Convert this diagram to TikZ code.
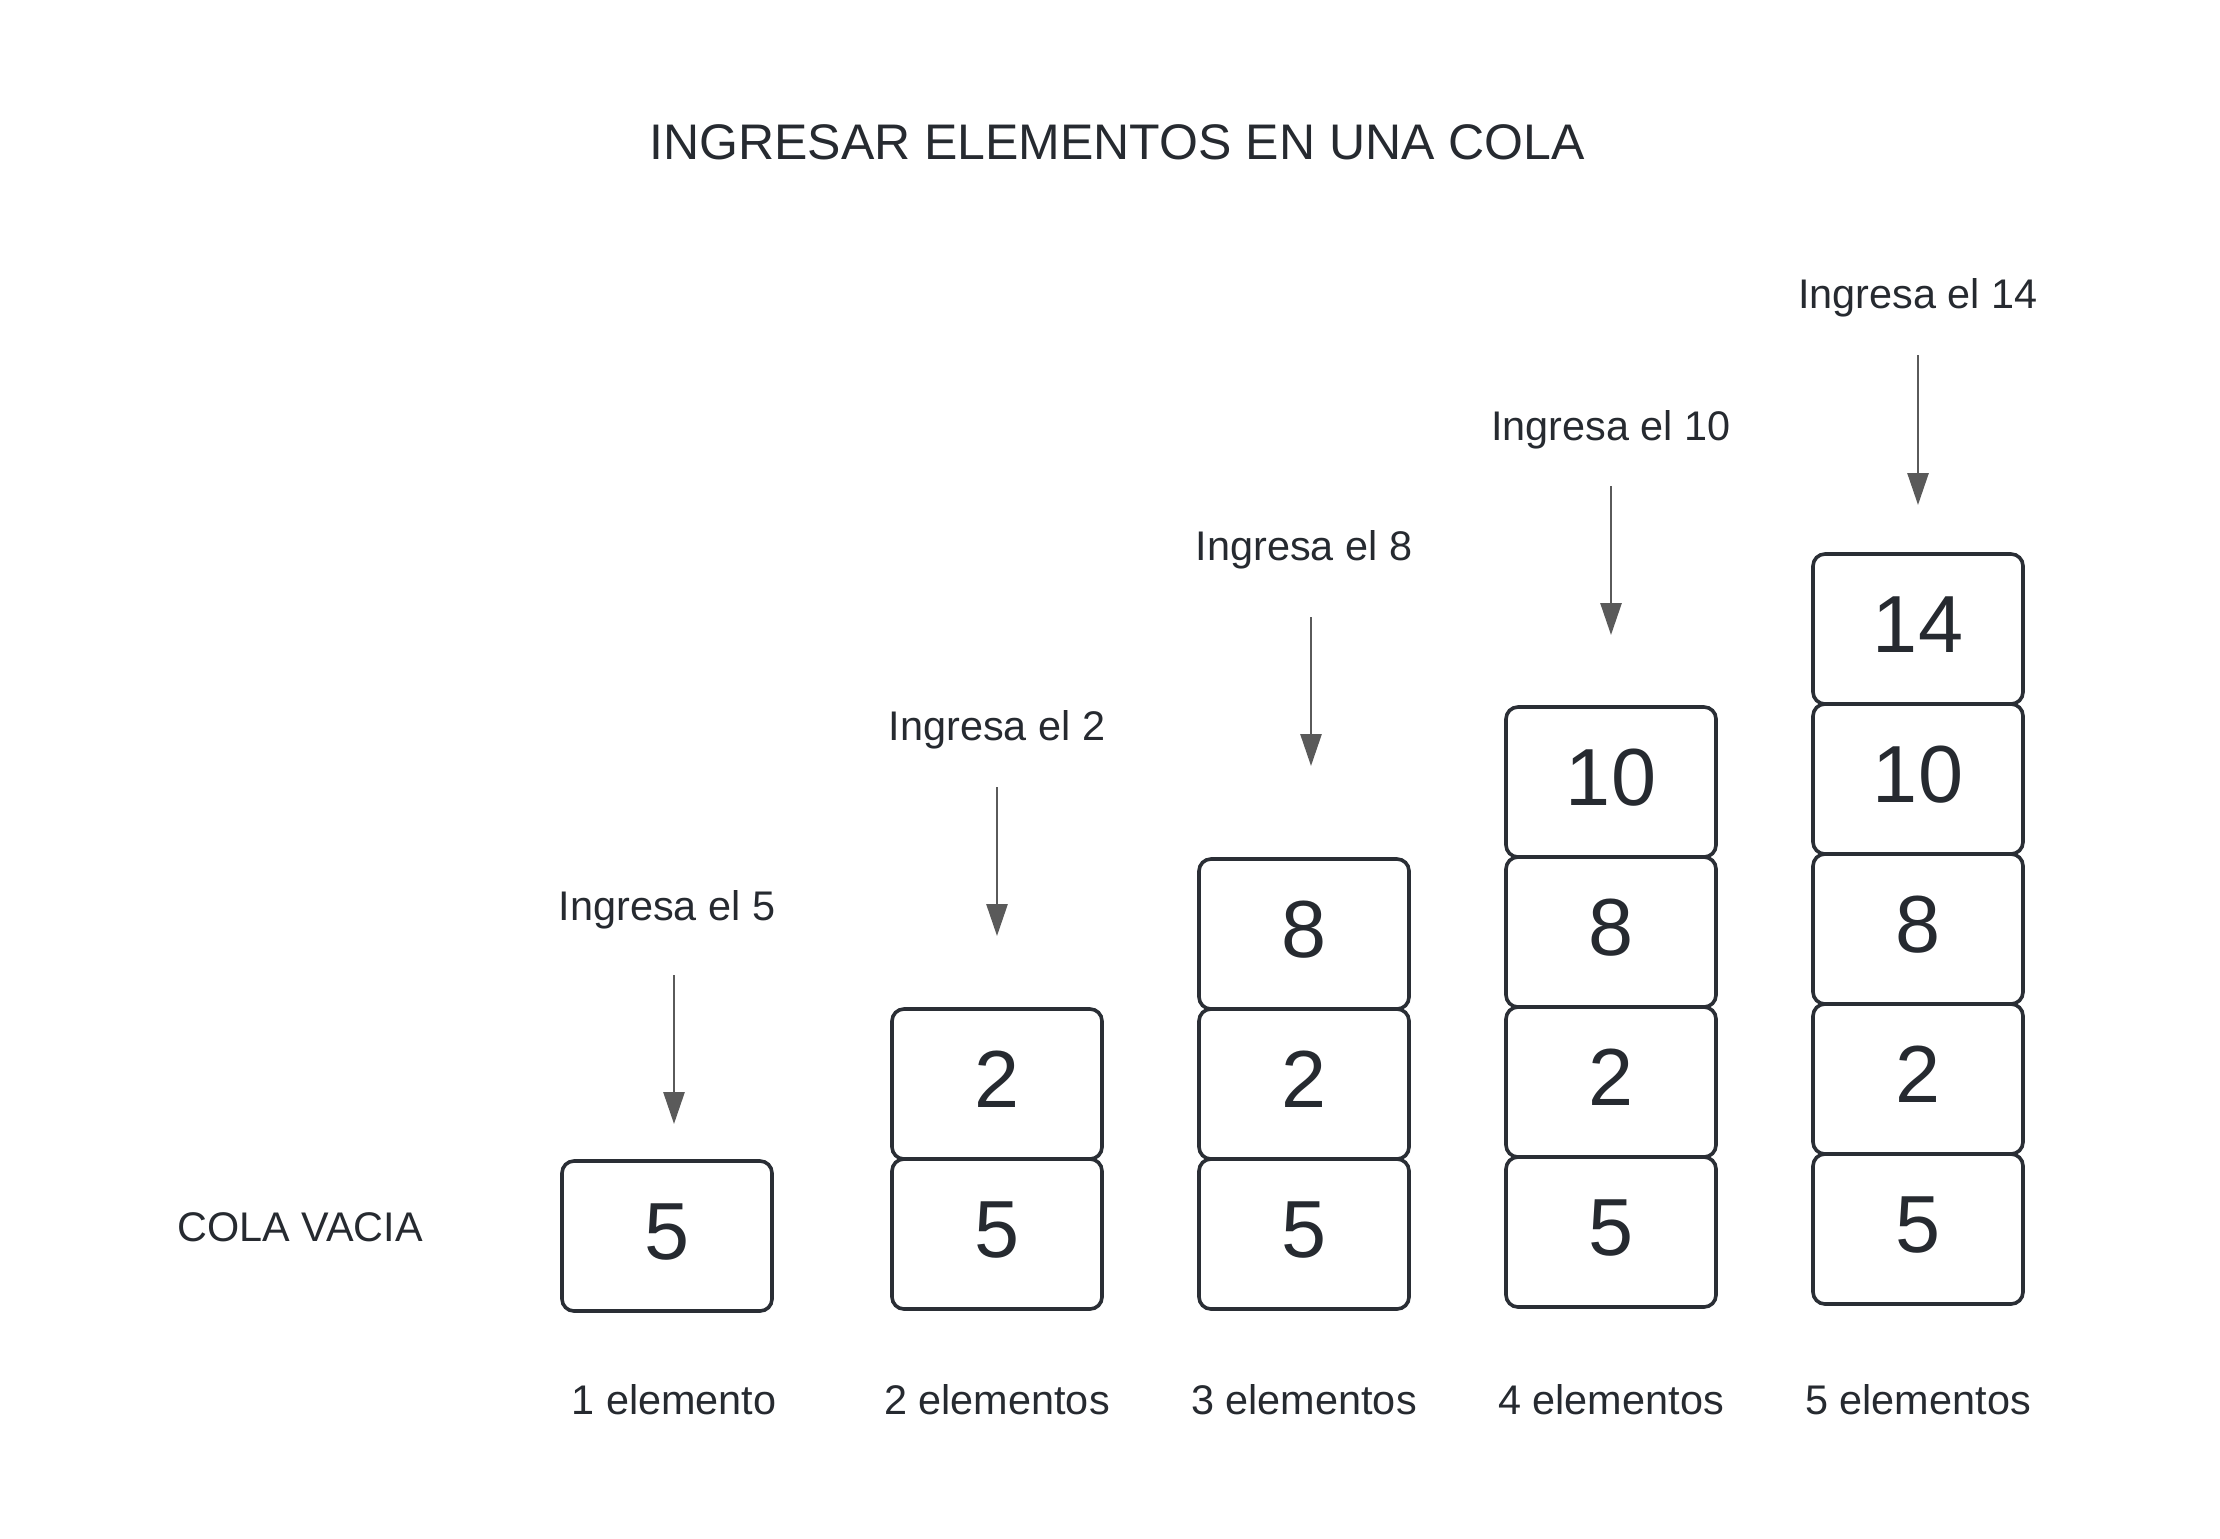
\documentclass[tikz,border=0pt]{standalone}
\usepackage{fontspec}
\setmainfont{Liberation Sans}
\usetikzlibrary{arrows.meta}
\definecolor{txt}{HTML}{262A30}
\definecolor{boxline}{HTML}{2A2E35}
\definecolor{arr}{HTML}{5A5A5A}
\begin{document}
\begin{tikzpicture}[x=0.5pt,y=-0.5pt,
  lbl/.style={font=\fontsize{20.7}{24}\selectfont, text=txt, anchor=base, inner sep=0pt},
  ttl/.style={font=\fontsize{25}{30}\selectfont, text=txt, anchor=base, inner sep=0pt},
  cell/.style={draw=boxline, line width=1.8pt, rounded corners=6pt, minimum width=105pt, minimum height=75pt,
    inner sep=0pt, font=\fontsize{40.5}{44}\selectfont, text=txt, text height=29pt, text depth=6pt},
  push/.style={draw=arr, line width=1.4pt, -{Triangle[length=16pt,width=10.5pt]}}]
\useasboundingbox (0,0) rectangle (2220,1538);
\node[ttl] (title) at (1117,159) {INGRESAR ELEMENTOS EN UNA COLA};
\node[lbl] (empty) at (300,1241) {COLA VACIA};
% column 1
\node[cell] (c1a) at (667,1236) {5};
\node[lbl] (in1) at (667,920) {Ingresa el 5};
\coordinate (s1) at (674,975); \coordinate (e1) at (674,1124);
\draw[push] (s1) -- (e1);
\node[lbl] (n1) at (674,1414) {1 elemento};
% column 2
\node[cell] (c2a) at (997,1234) {5};
\node[cell] (c2b) at (997,1084) {2};
\node[lbl] (in2) at (997,740) {Ingresa el 2};
\coordinate (s2) at (997,787); \coordinate (e2) at (997,936);
\draw[push] (s2) -- (e2);
\node[lbl] (n2) at (997,1414) {2 elementos};
% column 3
\node[cell] (c3a) at (1304,1234) {5};
\node[cell] (c3b) at (1304,1084) {2};
\node[cell] (c3c) at (1304,934) {8};
\node[lbl] (in3) at (1304,560) {Ingresa el 8};
\coordinate (s3) at (1311,617); \coordinate (e3) at (1311,766);
\draw[push] (s3) -- (e3);
\node[lbl] (n3) at (1304,1414) {3 elementos};
% column 4
\node[cell] (c4a) at (1611,1232) {5};
\node[cell] (c4b) at (1611,1082) {2};
\node[cell] (c4c) at (1611,932) {8};
\node[cell] (c4d) at (1611,782) {10};
\node[lbl] (in4) at (1611,440) {Ingresa el 10};
\coordinate (s4) at (1611,486); \coordinate (e4) at (1611,635);
\draw[push] (s4) -- (e4);
\node[lbl] (n4) at (1611,1414) {4 elementos};
% column 5
\node[cell] (c5a) at (1918,1229) {5};
\node[cell] (c5b) at (1918,1079) {2};
\node[cell] (c5c) at (1918,929) {8};
\node[cell] (c5d) at (1918,779) {10};
\node[cell] (c5e) at (1918,629) {14};
\node[lbl] (in5) at (1918,308) {Ingresa el 14};
\coordinate (s5) at (1918,355); \coordinate (e5) at (1918,505);
\draw[push] (s5) -- (e5);
\node[lbl] (n5) at (1918,1414) {5 elementos};
\end{tikzpicture}
\end{document}
